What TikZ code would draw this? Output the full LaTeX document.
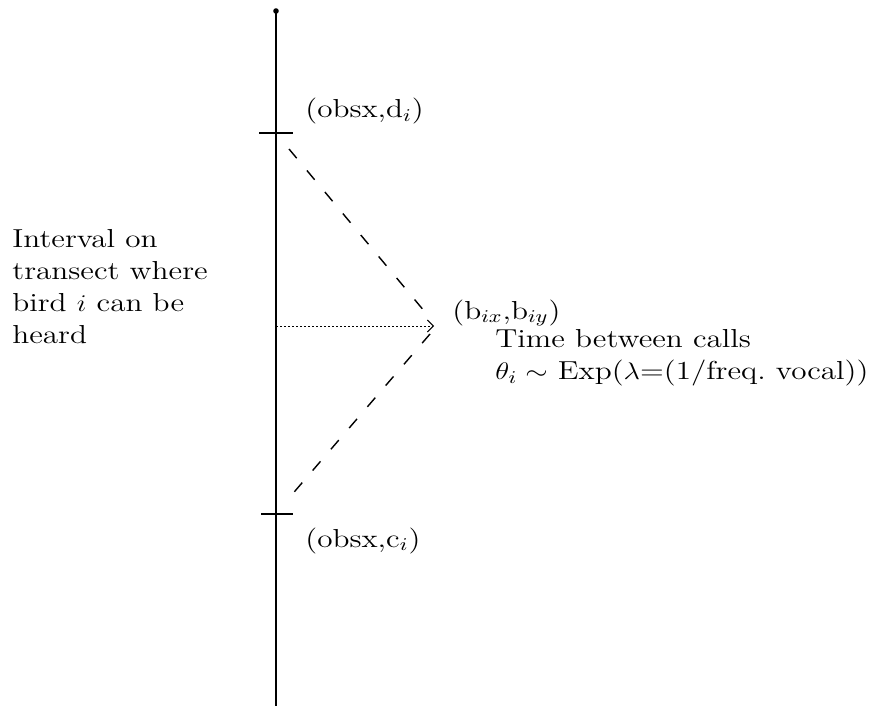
\documentclass[tikz,border=0pt]{standalone}
\usepackage{graphicx}
\usetikzlibrary{arrows.meta}
\newcommand{\sx}[1]{\scalebox{1.2}[1]{#1}}
\begin{document}
\begin{tikzpicture}[x=0.5pt,y=-0.5pt,
  lbl/.style={inner sep=0pt,font=\fontsize{13}{16}\selectfont},
  axisline/.style={line width=1.2pt},
  tickline/.style={line width=0.9pt},
  dashline/.style={line width=0.7pt,dash pattern=on 6pt off 8pt},
  dotline/.style={line width=0.5pt,dash pattern=on 1pt off 1pt}]
\useasboundingbox (0,0) rectangle (877,706);
\coordinate (top) at (276,11);
\coordinate (bot) at (276,706);
\coordinate (d) at (276,133);
\coordinate (c) at (276,514);
\coordinate (dl) at (259,133);
\coordinate (dr) at (293,133);
\coordinate (cl) at (261,514);
\coordinate (cr) at (293,514);
\coordinate (ds) at (289,149);
\coordinate (cs) at (289,498);
\coordinate (m) at (276,326);
\coordinate (b) at (434,326);
\coordinate (bu) at (430,318);
\coordinate (bd) at (430,334);
\fill (top) circle (1.4pt);
\draw[axisline] (top) -- (bot);
\draw[tickline] (dl) -- (dr);
\draw[tickline] (cl) -- (cr);
\draw[dashline] (ds) -- (bu);
\draw[dashline] (bd) -- (cs);
\draw[dotline,-{Straight Barb[length=3pt,width=6pt]}] (m) -- (b);
\node[lbl,anchor=base west] (dlab) at (305,118) {\sx{(obsx,d$_i$)}};
\node[lbl,anchor=base west] (clab) at (305,547) {\sx{(obsx,c$_i$)}};
\node[lbl,anchor=base west] (blab) at (452,319) {\sx{(b$_{ix}$,b$_{iy}$)}};
\node[lbl,anchor=north west,align=left] (tlab) at (495,329)
  {\sx{Time between calls}\\\sx{$\theta_i\sim$ Exp($\lambda$=(1/freq.\ vocal))}};
\node[lbl,anchor=north west,align=left] (ilab) at (12,229)
  {\sx{Interval on}\\\sx{transect where}\\\sx{bird $i$ can be}\\\sx{heard}};
\end{tikzpicture}
\end{document}
